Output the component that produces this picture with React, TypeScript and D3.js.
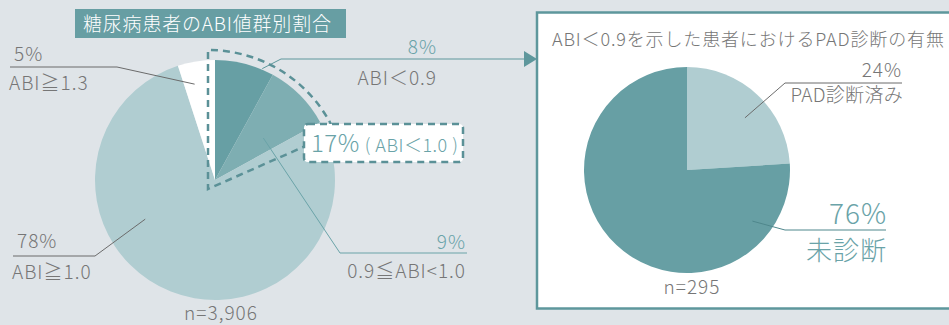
import React from "react";
import * as d3 from "d3";

// ---------- data ----------
const leftTitle = "糖尿病患者のABI値群別割合";
const abiCategories = ["ABI＜0.9", "0.9≦ABI<1.0", "ABI≧1.0", "ABI≧1.3"];
const abiValues = [8, 9, 78, 5];
const abiTotal = "n=3,906";
const groupNote = "( ABI＜1.0 )";

const rightTitle = "ABI＜0.9を示した患者におけるPAD診断の有無";
const padCategories = ["PAD診断済み", "未診断"];
const padValues = [24, 76];
const padTotal = "n=295";

// ---------- styles ----------
const W = 949;
const H = 325;
const BG = "#dfe4e8";
const FONT = "'Noto Sans CJK JP', 'Noto Sans', sans-serif";
const GRAY = "#767676";
const TEAL = "#6aa3a8";
const TEAL_LINE = "#5e979c";
const abiColors = ["#679fa4", "#7eaeb2", "#b0cdd1", "#ffffff"];
const padColors = ["#b0cdd1", "#679fa4"];

const deg = (d: number) => (d * Math.PI) / 180;
const polar = (cx: number, cy: number, r: number, a: number): [number, number] => [
  cx + r * Math.sin(a),
  cy - r * Math.cos(a),
];

export default function App() {
  const pie = d3.pie<number>().sort(null).value((d) => d);

  // left pie
  const L = { cx: 215, cy: 180, r: 120 };
  const leftArcs = pie(abiValues);
  const leftArc = d3.arc<d3.PieArcDatum<number>>().innerRadius(0).outerRadius(L.r);

  // right pie
  const R = { cx: 687, cy: 170, r: 103 };
  const rightArcs = pie(padValues);
  const rightArc = d3.arc<d3.PieArcDatum<number>>().innerRadius(0).outerRadius(R.r);

  // dashed group outline (first two slices)
  const groupEnd = leftArcs[1].endAngle;
  const dc = { x: 208, y: 189, r: 139 };
  const outline = d3.path();
  const lowA = groupEnd + deg(5);
  const lowP = polar(dc.x, dc.y, 110, lowA);
  outline.moveTo(lowP[0], lowP[1]);
  outline.lineTo(dc.x, dc.y);
  outline.lineTo(dc.x, dc.y - dc.r);
  outline.arc(dc.x, dc.y, dc.r, -Math.PI / 2, -Math.PI / 2 + groupEnd + deg(1), false);

  const groupPct = abiValues[0] + abiValues[1];

  const pct = (v: number) => `${v}%`;

  // leader lines
  const s8 = polar(L.cx, L.cy, 121, deg(23));
  const s9 = polar(L.cx, L.cy, 64, deg(49));
  const s78 = polar(L.cx, L.cy, 80, deg(240.7));
  const s5 = polar(L.cx, L.cy, 98, deg(348));
  const s24 = polar(R.cx, R.cy, 78, deg(48));
  const s76 = polar(R.cx, R.cy, 83, deg(128));

  const txt = (extra: any) => ({ fontFamily: FONT, fontWeight: 300, letterSpacing: 1, ...extra });

  return (
    <svg
      width={W}
      height={H}
      style={{ position: "absolute", left: 0, top: 0, display: "block" }}
    >
      <rect x={0} y={0} width={W} height={H} fill={BG} />

      {/* left title */}
      <rect x={75} y={9} width={271} height={29} fill="#679ea3" />
      <text x={83} y={31} {...txt({ fontSize: 19, fill: "#ffffff", letterSpacing: 0.8 })}>
        {leftTitle}
      </text>

      {/* left pie */}
      <g transform={`translate(${L.cx},${L.cy})`}>
        {leftArcs.map((a, i) => (
          <path key={i} d={leftArc(a) || ""} fill={abiColors[i]} />
        ))}
      </g>

      {/* leader lines left */}
      <polyline points={`${s8[0]},${s8[1]} 281,59 525,59`} fill="none" stroke={TEAL_LINE} strokeWidth={1} />
      <polygon points="524,51 537,59 524,67" fill={TEAL_LINE} />
      <polyline points={`${s9[0]},${s9[1]} 340,253 467,253`} fill="none" stroke={TEAL} strokeWidth={1} />
      <polyline points={`${s78[0]},${s78[1]} 95,256 13,256`} fill="none" stroke="#6b6b6b" strokeWidth={1} />
      <polyline points={`${s5[0]},${s5[1]} 117,67 10,67`} fill="none" stroke="#6b6b6b" strokeWidth={1} />

      {/* dashed group outline */}
      <path d={outline.toString()} fill="none" stroke="#5b9197" strokeWidth={2.5} strokeDasharray="7 5" />
      <rect x={304} y={124} width={159} height={38} rx={4} fill="#ffffff" stroke="#5b9197" strokeWidth={2.5} strokeDasharray="7 5" />
      <text x={311} y={152} {...txt({ fill: TEAL, letterSpacing: 0.5 })}>
        <tspan fontSize={24}>{pct(groupPct)}</tspan>
        <tspan fontSize={18} dx={5}>{groupNote}</tspan>
      </text>

      {/* left labels */}
      <text x={437} y={54} textAnchor="end" {...txt({ fontSize: 19, fill: TEAL })}>{pct(abiValues[0])}</text>
      <text x={437} y={85} textAnchor="end" {...txt({ fontSize: 19, fill: GRAY })}>{abiCategories[0]}</text>
      <text x={466} y={249} textAnchor="end" {...txt({ fontSize: 19, fill: TEAL })}>{pct(abiValues[1])}</text>
      <text x={466} y={278} textAnchor="end" {...txt({ fontSize: 19, fill: GRAY })}>{abiCategories[1]}</text>
      <text x={17} y={248} {...txt({ fontSize: 19, fill: GRAY })}>{pct(abiValues[2])}</text>
      <text x={12} y={279} {...txt({ fontSize: 19, fill: GRAY })}>{abiCategories[2]}</text>
      <text x={14} y={61} {...txt({ fontSize: 19, fill: GRAY })}>{pct(abiValues[3])}</text>
      <text x={9} y={90} {...txt({ fontSize: 19, fill: GRAY })}>{abiCategories[3]}</text>
      <text x={221} y={320} textAnchor="middle" {...txt({ fontSize: 19, fill: GRAY })}>{abiTotal}</text>

      {/* right panel */}
      <rect x={537} y={12.5} width={430} height={296} fill="#ffffff" stroke={TEAL_LINE} strokeWidth={2.5} />
      <text x={552} y={46} {...txt({ fontSize: 18, fill: GRAY, letterSpacing: 0.85 })}>{rightTitle}</text>

      <g transform={`translate(${R.cx},${R.cy})`}>
        {rightArcs.map((a, i) => (
          <path key={i} d={rightArc(a) || ""} fill={padColors[i]} />
        ))}
      </g>

      <polyline points={`${s24[0]},${s24[1]} 785,83 902,83`} fill="none" stroke="#6b6b6b" strokeWidth={1} />
      <polyline points={`${s76[0]},${s76[1]} 785,230 886,230`} fill="none" stroke="#4f878c" strokeWidth={1} />

      <text x={902} y={77} textAnchor="end" {...txt({ fontSize: 19, fill: GRAY })}>{pct(padValues[0])}</text>
      <text x={903} y={102} textAnchor="end" {...txt({ fontSize: 19, fill: GRAY, letterSpacing: 0.3 })}>{padCategories[0]}</text>
      <text x={887} y={224} textAnchor="end" {...txt({ fontSize: 28, fill: TEAL })}>{pct(padValues[1])}</text>
      <text x={887} y={260} textAnchor="end" {...txt({ fontSize: 26, fill: TEAL })}>{padCategories[1]}</text>
      <text x={692} y={294} textAnchor="middle" {...txt({ fontSize: 19, fill: GRAY })}>{padTotal}</text>
    </svg>
  );
}
